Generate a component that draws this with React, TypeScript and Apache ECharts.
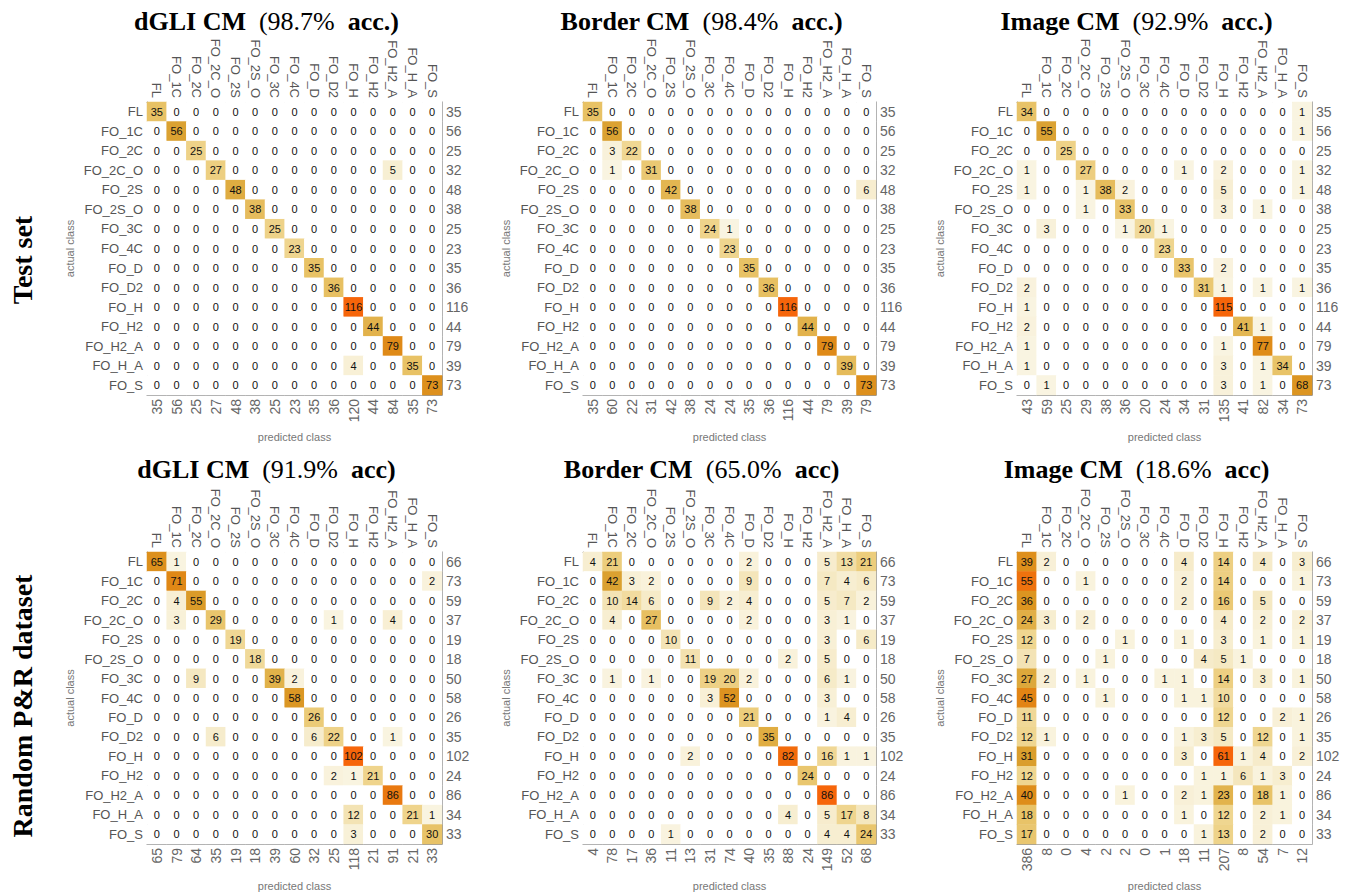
import React, { useEffect, useRef } from 'react';
import * as echarts from 'echarts';

const CLASSES = ['FL', 'FO_1C', 'FO_2C', 'FO_2C_O', 'FO_2S', 'FO_2S_O', 'FO_3C', 'FO_4C', 'FO_D', 'FO_D2', 'FO_H', 'FO_H2', 'FO_H2_A', 'FO_H_A', 'FO_S'];

const dgliTest = [
  [35, 0, 0, 0, 0, 0, 0, 0, 0, 0, 0, 0, 0, 0, 0],
  [0, 56, 0, 0, 0, 0, 0, 0, 0, 0, 0, 0, 0, 0, 0],
  [0, 0, 25, 0, 0, 0, 0, 0, 0, 0, 0, 0, 0, 0, 0],
  [0, 0, 0, 27, 0, 0, 0, 0, 0, 0, 0, 0, 5, 0, 0],
  [0, 0, 0, 0, 48, 0, 0, 0, 0, 0, 0, 0, 0, 0, 0],
  [0, 0, 0, 0, 0, 38, 0, 0, 0, 0, 0, 0, 0, 0, 0],
  [0, 0, 0, 0, 0, 0, 25, 0, 0, 0, 0, 0, 0, 0, 0],
  [0, 0, 0, 0, 0, 0, 0, 23, 0, 0, 0, 0, 0, 0, 0],
  [0, 0, 0, 0, 0, 0, 0, 0, 35, 0, 0, 0, 0, 0, 0],
  [0, 0, 0, 0, 0, 0, 0, 0, 0, 36, 0, 0, 0, 0, 0],
  [0, 0, 0, 0, 0, 0, 0, 0, 0, 0, 116, 0, 0, 0, 0],
  [0, 0, 0, 0, 0, 0, 0, 0, 0, 0, 0, 44, 0, 0, 0],
  [0, 0, 0, 0, 0, 0, 0, 0, 0, 0, 0, 0, 79, 0, 0],
  [0, 0, 0, 0, 0, 0, 0, 0, 0, 0, 4, 0, 0, 35, 0],
  [0, 0, 0, 0, 0, 0, 0, 0, 0, 0, 0, 0, 0, 0, 73],
];

const borderTest = [
  [35, 0, 0, 0, 0, 0, 0, 0, 0, 0, 0, 0, 0, 0, 0],
  [0, 56, 0, 0, 0, 0, 0, 0, 0, 0, 0, 0, 0, 0, 0],
  [0, 3, 22, 0, 0, 0, 0, 0, 0, 0, 0, 0, 0, 0, 0],
  [0, 1, 0, 31, 0, 0, 0, 0, 0, 0, 0, 0, 0, 0, 0],
  [0, 0, 0, 0, 42, 0, 0, 0, 0, 0, 0, 0, 0, 0, 6],
  [0, 0, 0, 0, 0, 38, 0, 0, 0, 0, 0, 0, 0, 0, 0],
  [0, 0, 0, 0, 0, 0, 24, 1, 0, 0, 0, 0, 0, 0, 0],
  [0, 0, 0, 0, 0, 0, 0, 23, 0, 0, 0, 0, 0, 0, 0],
  [0, 0, 0, 0, 0, 0, 0, 0, 35, 0, 0, 0, 0, 0, 0],
  [0, 0, 0, 0, 0, 0, 0, 0, 0, 36, 0, 0, 0, 0, 0],
  [0, 0, 0, 0, 0, 0, 0, 0, 0, 0, 116, 0, 0, 0, 0],
  [0, 0, 0, 0, 0, 0, 0, 0, 0, 0, 0, 44, 0, 0, 0],
  [0, 0, 0, 0, 0, 0, 0, 0, 0, 0, 0, 0, 79, 0, 0],
  [0, 0, 0, 0, 0, 0, 0, 0, 0, 0, 0, 0, 0, 39, 0],
  [0, 0, 0, 0, 0, 0, 0, 0, 0, 0, 0, 0, 0, 0, 73],
];

const imageTest = [
  [34, 0, 0, 0, 0, 0, 0, 0, 0, 0, 0, 0, 0, 0, 1],
  [0, 55, 0, 0, 0, 0, 0, 0, 0, 0, 0, 0, 0, 0, 1],
  [0, 0, 25, 0, 0, 0, 0, 0, 0, 0, 0, 0, 0, 0, 0],
  [1, 0, 0, 27, 0, 0, 0, 0, 1, 0, 2, 0, 0, 0, 1],
  [1, 0, 0, 1, 38, 2, 0, 0, 0, 0, 5, 0, 0, 0, 1],
  [0, 0, 0, 1, 0, 33, 0, 0, 0, 0, 3, 0, 1, 0, 0],
  [0, 3, 0, 0, 0, 1, 20, 1, 0, 0, 0, 0, 0, 0, 0],
  [0, 0, 0, 0, 0, 0, 0, 23, 0, 0, 0, 0, 0, 0, 0],
  [0, 0, 0, 0, 0, 0, 0, 0, 33, 0, 2, 0, 0, 0, 0],
  [2, 0, 0, 0, 0, 0, 0, 0, 0, 31, 1, 0, 1, 0, 1],
  [1, 0, 0, 0, 0, 0, 0, 0, 0, 0, 115, 0, 0, 0, 0],
  [2, 0, 0, 0, 0, 0, 0, 0, 0, 0, 0, 41, 1, 0, 0],
  [1, 0, 0, 0, 0, 0, 0, 0, 0, 0, 1, 0, 77, 0, 0],
  [1, 0, 0, 0, 0, 0, 0, 0, 0, 0, 3, 0, 1, 34, 0],
  [0, 1, 0, 0, 0, 0, 0, 0, 0, 0, 3, 0, 1, 0, 68],
];

const dgliRandom = [
  [65, 1, 0, 0, 0, 0, 0, 0, 0, 0, 0, 0, 0, 0, 0],
  [0, 71, 0, 0, 0, 0, 0, 0, 0, 0, 0, 0, 0, 0, 2],
  [0, 4, 55, 0, 0, 0, 0, 0, 0, 0, 0, 0, 0, 0, 0],
  [0, 3, 0, 29, 0, 0, 0, 0, 0, 1, 0, 0, 4, 0, 0],
  [0, 0, 0, 0, 19, 0, 0, 0, 0, 0, 0, 0, 0, 0, 0],
  [0, 0, 0, 0, 0, 18, 0, 0, 0, 0, 0, 0, 0, 0, 0],
  [0, 0, 9, 0, 0, 0, 39, 2, 0, 0, 0, 0, 0, 0, 0],
  [0, 0, 0, 0, 0, 0, 0, 58, 0, 0, 0, 0, 0, 0, 0],
  [0, 0, 0, 0, 0, 0, 0, 0, 26, 0, 0, 0, 0, 0, 0],
  [0, 0, 0, 6, 0, 0, 0, 0, 6, 22, 0, 0, 1, 0, 0],
  [0, 0, 0, 0, 0, 0, 0, 0, 0, 0, 102, 0, 0, 0, 0],
  [0, 0, 0, 0, 0, 0, 0, 0, 0, 2, 1, 21, 0, 0, 0],
  [0, 0, 0, 0, 0, 0, 0, 0, 0, 0, 0, 0, 86, 0, 0],
  [0, 0, 0, 0, 0, 0, 0, 0, 0, 0, 12, 0, 0, 21, 1],
  [0, 0, 0, 0, 0, 0, 0, 0, 0, 0, 3, 0, 0, 0, 30],
];

const borderRandom = [
  [4, 21, 0, 0, 0, 0, 0, 0, 2, 0, 0, 0, 5, 13, 21],
  [0, 42, 3, 2, 0, 0, 0, 0, 9, 0, 0, 0, 7, 4, 6],
  [0, 10, 14, 6, 0, 0, 9, 2, 4, 0, 0, 0, 5, 7, 2],
  [0, 4, 0, 27, 0, 0, 0, 0, 2, 0, 0, 0, 3, 1, 0],
  [0, 0, 0, 0, 10, 0, 0, 0, 0, 0, 0, 0, 3, 0, 6],
  [0, 0, 0, 0, 0, 11, 0, 0, 0, 0, 2, 0, 5, 0, 0],
  [0, 1, 0, 1, 0, 0, 19, 20, 2, 0, 0, 0, 6, 1, 0],
  [0, 0, 0, 0, 0, 0, 3, 52, 0, 0, 0, 0, 3, 0, 0],
  [0, 0, 0, 0, 0, 0, 0, 0, 21, 0, 0, 0, 1, 4, 0],
  [0, 0, 0, 0, 0, 0, 0, 0, 0, 35, 0, 0, 0, 0, 0],
  [0, 0, 0, 0, 0, 2, 0, 0, 0, 0, 82, 0, 16, 1, 1],
  [0, 0, 0, 0, 0, 0, 0, 0, 0, 0, 0, 24, 0, 0, 0],
  [0, 0, 0, 0, 0, 0, 0, 0, 0, 0, 0, 0, 86, 0, 0],
  [0, 0, 0, 0, 0, 0, 0, 0, 0, 0, 4, 0, 5, 17, 8],
  [0, 0, 0, 0, 1, 0, 0, 0, 0, 0, 0, 0, 4, 4, 24],
];

const imageRandom = [
  [39, 2, 0, 0, 0, 0, 0, 0, 4, 0, 14, 0, 4, 0, 3],
  [55, 0, 0, 1, 0, 0, 0, 0, 2, 0, 14, 0, 0, 0, 1],
  [36, 0, 0, 0, 0, 0, 0, 0, 2, 0, 16, 0, 5, 0, 0],
  [24, 3, 0, 2, 0, 0, 0, 0, 0, 0, 4, 0, 2, 0, 2],
  [12, 0, 0, 0, 0, 1, 0, 0, 1, 0, 3, 0, 1, 0, 1],
  [7, 0, 0, 0, 1, 0, 0, 0, 0, 4, 5, 1, 0, 0, 0],
  [27, 2, 0, 1, 0, 0, 0, 1, 1, 0, 14, 0, 3, 0, 1],
  [45, 0, 0, 0, 1, 0, 0, 0, 1, 1, 10, 0, 0, 0, 0],
  [11, 0, 0, 0, 0, 0, 0, 0, 0, 0, 12, 0, 0, 2, 1],
  [12, 1, 0, 0, 0, 0, 0, 0, 1, 3, 5, 0, 12, 0, 1],
  [31, 0, 0, 0, 0, 0, 0, 0, 3, 0, 61, 1, 4, 0, 2],
  [12, 0, 0, 0, 0, 0, 0, 0, 0, 1, 1, 6, 1, 3, 0],
  [40, 0, 0, 0, 0, 1, 0, 0, 2, 1, 23, 0, 18, 1, 0],
  [18, 0, 0, 0, 0, 0, 0, 0, 1, 0, 12, 0, 2, 1, 0],
  [17, 0, 0, 0, 0, 0, 0, 0, 0, 1, 13, 0, 2, 0, 0],
];

const MATRICES = [dgliTest, borderTest, imageTest, dgliRandom, borderRandom, imageRandom];
const TITLE_NAMES = ['dGLI CM', 'Border CM', 'Image CM', 'dGLI CM', 'Border CM', 'Image CM'];
const TITLE_ACC = ['(98.7%', '(98.4%', '(92.9%', '(91.9%', '(65.0%', '(18.6%'];
const TITLE_SUFFIX = ['acc.)', 'acc.)', 'acc.)', 'acc)', 'acc)', 'acc)'];
const ROW_LABELS = ['Test set', 'Random P&R dataset'];

const COLORS = ['#faf5e4', '#f4e6bc', '#efd58e', '#e8c266', '#e0ae44', '#da9f2e', '#dc9420', '#e08816', '#e67e12', '#ee720e', '#f6650a'];

const GRID_LEFT = [147, 583, 1017];
const GRID_W = [295, 293, 295];
const GRID_TOP = [102, 552];
const GRID_H = [293, 292];
const SIDE_Y = [260, 706];

const SANS = '"Liberation Sans", Arial, sans-serif';
const SERIF = '"Liberation Serif", "Times New Roman", serif';

export default function App() {
  const ref = useRef<HTMLDivElement>(null);
  useEffect(() => {
    document.body.style.margin = '0';
    if (!ref.current) return;
    const chart = echarts.init(ref.current, undefined, { renderer: 'svg' });
    const grids: any[] = [];
    const xAxes: any[] = [];
    const yAxes: any[] = [];
    const series: any[] = [];
    const visualMaps: any[] = [];
    const graphics: any[] = [];
    const axisCommon = (k: number) => ({
      type: 'category',
      gridIndex: k,
      axisLine: { show: true, lineStyle: { color: '#9a9a9a', width: 1 } },
      axisTick: { show: true, inside: true, alignWithLabel: true, length: 3, interval: 0, lineStyle: { color: '#9a9a9a' } },
      splitLine: { show: false },
      splitArea: { show: false },
    });
    MATRICES.forEach((m, k) => {
      const col = k % 3;
      const row = Math.floor(k / 3);
      const left = GRID_LEFT[col];
      const top = GRID_TOP[row];
      const w = GRID_W[col];
      const h = GRID_H[row];
      grids.push({ left, top, width: w, height: h, containLabel: false });
      const rowTotals = m.map((r) => r.reduce((a, b) => a + b, 0));
      const colTotals = CLASSES.map((_, j) => m.reduce((a, r) => a + r[j], 0));
      const max = Math.max(...m.flat());
      xAxes.push({
        ...axisCommon(k),
        position: 'top',
        data: CLASSES,
        axisLabel: { rotate: 90, interval: 0, margin: 4, fontSize: 13, color: '#555', fontFamily: SANS },
      });
      xAxes.push({
        ...axisCommon(k),
        position: 'bottom',
        data: colTotals.map(String),
        axisLabel: { rotate: 90, interval: 0, margin: 4, fontSize: 14, color: '#666', fontFamily: SANS },
      });
      yAxes.push({
        ...axisCommon(k),
        position: 'left',
        inverse: true,
        data: CLASSES,
        axisLabel: { interval: 0, margin: 4, fontSize: 13, color: '#555', fontFamily: SANS },
      });
      yAxes.push({
        ...axisCommon(k),
        position: 'right',
        inverse: true,
        data: rowTotals.map(String),
        axisLabel: { interval: 0, margin: 4, fontSize: 14, color: '#666', fontFamily: SANS },
      });
      const data: number[][] = [];
      m.forEach((r, i) => r.forEach((v, j) => data.push([j, i, v])));
      series.push({
        type: 'heatmap',
        xAxisIndex: 2 * k,
        yAxisIndex: 2 * k,
        data,
        label: { show: true, fontSize: 11, color: '#111', fontFamily: SANS, formatter: (p: any) => String(p.value[2]) },
        emphasis: { disabled: true },
        itemStyle: { borderWidth: 0 },
      });
      visualMaps.push({
        type: 'continuous',
        show: false,
        seriesIndex: k,
        dimension: 2,
        min: 0,
        max,
        range: [0.5, max],
        inRange: { color: COLORS },
        outOfRange: { color: '#ffffff' },
      });
      const cx = left + w / 2;
      graphics.push({
        type: 'text',
        x: cx - 28,
        y: row === 0 ? 21 : 469,
        style: {
          text: `{b|${TITLE_NAMES[k]}  }{n|${TITLE_ACC[k]}  }{b|${TITLE_SUFFIX[k]}}`,
          align: 'center',
          verticalAlign: 'middle',
          rich: {
            b: { fontFamily: SERIF, fontWeight: 'bold', fontSize: 26, fill: '#000' },
            n: { fontFamily: SERIF, fontWeight: 'normal', fontSize: 26, fill: '#000' },
          },
        },
      });
      graphics.push({
        type: 'text',
        x: left - 77,
        y: top + h / 2,
        rotation: Math.PI / 2,
        style: { text: 'actual class', font: `11px ${SANS}`, fill: '#777', align: 'center', verticalAlign: 'middle' },
      });
      graphics.push({
        type: 'text',
        x: cx,
        y: top + h + 42,
        style: { text: 'predicted class', font: `11px ${SANS}`, fill: '#777', align: 'center', verticalAlign: 'middle' },
      });
    });
    ROW_LABELS.forEach((t, r) => {
      graphics.push({
        type: 'text',
        x: 22,
        y: SIDE_Y[r],
        rotation: Math.PI / 2,
        style: { text: t, font: `bold 28px ${SERIF}`, fill: '#000', align: 'center', verticalAlign: 'middle' },
      });
    });
    chart.setOption({
      animation: false,
      backgroundColor: '#ffffff',
      grid: grids,
      xAxis: xAxes,
      yAxis: yAxes,
      visualMap: visualMaps,
      series,
      graphic: graphics,
    });
    return () => chart.dispose();
  }, []);
  return <div ref={ref} style={{ width: 1351, height: 894 }} />;
}
